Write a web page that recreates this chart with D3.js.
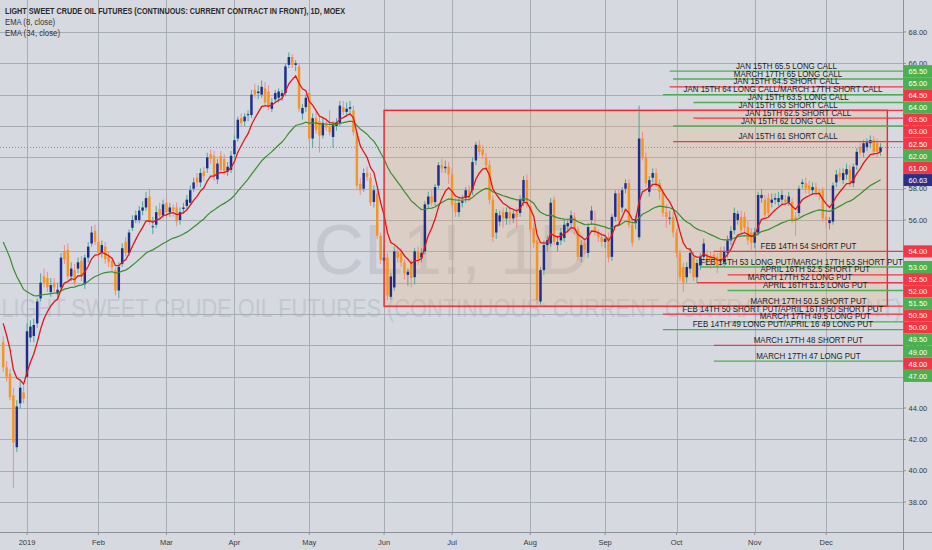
<!DOCTYPE html>
<html><head><meta charset="utf-8">
<script src="https://cdn.jsdelivr.net/npm/d3@7"></script>
<style>
html,body{margin:0;padding:0;background:#d6d9e0;}
svg{display:block;font-family:"Liberation Sans",Arial,sans-serif;}
</style>
</head><body>
<svg id="chart" width="932" height="550"></svg>
<script>
// ---------- text ----------
const title = "LIGHT SWEET CRUDE OIL FUTURES (CONTINUOUS: CURRENT CONTRACT IN FRONT), 1D, MOEX";
const indicatorNames = ["EMA (8, close)", "EMA (34, close)"];
const watermarkSymbol = "CL1!, 1D";
const watermarkName = "LIGHT SWEET CRUDE OIL FUTURES (CONTINUOUS: CURRENT CONTRACT IN FRONT)";
const monthLabels = ["2019","Feb","Mar","Apr","May","Jun","Jul","Aug","Sep","Oct","Nov","Dec"];
const priceTicks = [38,40,42,44,46,48,50,52,54,56,58,60,62,64,66,68];

// ---------- calendar ----------
const firstDate = "2018-12-20";
const lastDate = "2019-12-24";
const holidays = ["2018-12-25","2019-01-01","2019-01-07","2019-03-08","2019-05-09"];

// ---------- daily OHLC (by month) ----------
const opens = [
 48.2,46.6,46.2,44.8,41.5,44.3,45.0,
 46.0,48.5,48.6,49.4,51.0,52.4,52.3,51.4,52.0,51.3,51.7,54.0,54.1,52.4,52.8,52.9,53.4,51.9,53.6,54.5,55.3,
 54.6,53.9,54.3,53.7,53.4,52.8,51.5,53.2,54.6,53.9,55.5,56.0,56.0,56.6,56.8,57.5,55.6,55.7,56.7,56.3,
 57.1,56.5,56.8,56.8,56.0,56.7,56.9,57.1,58.0,58.7,58.4,59.1,59.3,60.2,60.1,58.6,60.1,59.9,59.1,59.2,
 60.2,61.2,62.5,62.3,62.7,62.7,64.3,64.1,64.0,64.4,64.2,63.1,63.7,63.8,63.9,64.1,65.9,66.4,65.9,65.8,62.8,63.2,
 64.1,61.2,62.5,62.3,61.4,62.1,62.0,61.3,62.0,62.2,63.2,62.9,63.1,63.0,61.6,58.3,58.0,59.0,58.7,57.15,57.7,55.0,
 53.4,53.6,51.1,51.7,54.0,53.9,53.3,52.5,53.3,52.35,54.0,53.6,54.0,57.0,57.5,57.15,58.2,59.5,59.3,59.4,
 58.9,57.1,56.5,57.1,57.4,57.9,57.9,59.8,60.8,60.5,59.95,59.5,57.3,55.2,55.9,56.5,56.1,56.5,56.1,56.5,56.45,57.2,58.55,
 56.9,55.5,54.7,50.8,52.8,54.4,54.5,57.3,54.4,54.7,54.85,55.6,55.8,56.2,55.4,53.65,54.55,53.9,56.0,55.55,55.2,54.9,54.6,
 54.9,53.65,56.2,57.7,56.8,58.0,58.35,55.7,55.8,54.9,61.2,60.0,57.8,58.7,59.0,58.35,57.8,56.5,56.1,56.2,55.2,
 53.9,53.0,52.35,52.9,53.65,52.35,53.1,53.65,53.8,53.7,53.8,53.65,54.0,53.3,53.9,54.7,55.35,56.0,56.2,56.2,55.55,55.2,54.55,
 55.2,57.4,57.3,57.4,57.1,57.3,57.15,57.3,57.3,57.15,57.15,56.2,56.45,58.3,58.35,58.2,57.9,58.1,57.8,57.9,56.2,
 55.8,55.9,58.4,59.0,58.55,58.9,59.2,58.35,59.5,60.65,60.3,60.65,60.9,61.1,60.9,60.35
];
const highs = [
 48.6,47.0,46.5,45.3,44.5,45.7,45.4,
 49.4,49.6,49.7,51.0,52.6,52.9,52.7,52.3,52.3,52.0,53.9,54.4,54.5,53.3,53.2,53.6,53.7,53.8,54.6,55.6,55.7,
 54.9,54.7,54.6,54.0,53.6,53.0,53.3,54.5,54.9,55.4,56.3,56.6,56.9,57.2,57.8,58.0,56.2,56.9,57.1,57.3,
 57.4,57.1,57.0,57.1,56.8,57.1,57.6,58.2,58.7,59.0,59.3,59.4,60.3,60.5,60.4,59.9,60.4,60.2,59.7,60.4,
 61.4,62.6,62.8,62.8,63.0,64.3,64.7,64.6,64.9,64.8,64.6,63.8,64.3,64.4,64.3,66.0,66.7,66.6,66.2,66.0,63.4,64.0,
 64.3,62.8,62.9,62.6,62.5,62.5,63.0,62.3,62.5,63.6,63.6,63.5,63.6,63.3,61.8,58.7,59.3,59.4,59.0,58.2,58.0,55.2,
 54.3,53.9,52.6,54.3,54.3,54.2,53.5,52.9,53.5,54.2,54.3,54.2,57.2,57.8,57.9,58.3,59.7,59.9,59.8,59.7,
 59.3,57.4,57.4,57.6,58.1,58.2,60.0,61.0,61.1,60.8,60.3,59.8,57.6,56.7,56.6,56.8,56.8,56.9,56.6,56.8,57.6,58.8,58.9,
 57.2,55.8,55.0,53.0,54.7,55.0,57.4,57.5,55.0,55.5,56.0,56.0,56.6,56.5,55.6,54.7,54.8,55.8,56.9,56.6,55.4,55.2,55.0,
 55.2,56.4,57.9,58.0,58.1,58.6,58.6,56.0,56.3,63.3,61.6,60.3,58.8,59.3,59.3,58.6,58.0,57.0,56.6,56.5,55.4,
 54.1,53.3,53.3,54.2,54.0,53.5,53.9,54.8,54.1,54.0,54.0,53.9,54.3,54.3,55.0,55.6,56.8,56.6,56.6,56.5,55.9,55.5,55.5,
 57.8,58.0,57.6,57.7,57.7,57.7,57.8,57.9,57.6,57.8,57.4,56.5,58.2,58.6,58.7,58.5,58.4,58.4,58.0,58.1,56.5,
 56.2,58.4,59.2,59.3,59.3,59.6,59.5,59.6,60.6,60.9,61.1,61.2,61.4,61.35,61.2,60.9
];
const lows = [
 46.3,45.7,44.5,38.9,41.2,44.0,44.3,
 45.9,48.2,48.2,49.1,50.8,51.7,51.4,51.1,51.4,51.0,51.5,53.2,52.2,52.1,51.8,52.6,52.1,51.6,53.3,54.3,54.4,
 53.6,53.6,53.2,53.0,52.7,51.2,51.0,53.0,53.7,53.7,55.3,55.8,55.8,56.3,56.6,55.7,55.1,55.5,56.0,56.1,
 56.2,56.2,56.2,55.6,55.7,56.4,56.7,56.9,57.8,58.1,58.1,58.5,59.0,59.6,58.5,58.3,59.0,58.9,58.8,59.0,
 60.0,61.0,62.0,62.0,62.3,62.5,63.8,63.7,63.8,63.3,63.0,62.9,63.5,63.5,63.6,63.9,65.7,65.7,65.5,62.9,62.4,62.9,
 61.0,60.6,61.5,60.3,61.2,61.7,61.4,60.6,61.7,62.0,62.7,62.6,62.8,61.4,57.9,57.6,57.8,58.5,56.9,56.8,54.8,53.2,
 52.9,50.9,50.9,51.5,53.3,53.0,52.2,51.8,51.7,51.9,53.1,53.3,53.8,56.7,56.9,56.9,58.0,59.0,59.0,58.3,
 56.8,56.2,56.2,56.8,57.1,57.2,57.6,59.5,60.1,59.9,59.2,57.0,54.6,54.8,55.6,55.5,55.7,55.7,55.8,55.5,56.2,56.9,56.8,
 55.1,54.2,50.6,50.6,52.5,54.0,54.3,54.4,54.0,54.4,54.6,55.2,55.5,55.1,53.4,53.3,53.8,53.6,55.7,55.0,54.6,54.3,54.2,
 53.3,53.4,55.9,55.8,56.5,57.7,55.5,54.3,55.4,54.7,59.8,58.1,57.5,58.4,58.1,57.3,56.2,55.5,55.7,54.9,53.6,
 52.1,51.4,52.0,52.6,52.1,52.0,52.8,53.4,53.0,52.9,53.0,52.6,53.0,53.0,53.6,54.4,55.1,55.7,55.0,55.2,54.4,54.1,54.2,
 55.0,57.1,56.1,56.2,56.8,57.0,56.9,57.0,56.9,56.9,55.8,55.0,56.2,58.0,57.7,57.6,57.6,57.5,57.3,55.9,55.5,
 55.4,55.7,58.1,58.5,58.3,58.6,58.1,58.1,59.2,60.1,60.0,60.4,60.6,60.1,60.0,60.1
];
const closes = [
 46.6,46.0,44.7,41.8,44.1,45.3,44.6,
 48.9,49.2,49.3,50.8,52.0,52.0,51.7,51.85,51.7,51.55,53.6,53.5,52.4,52.9,52.0,53.3,52.4,53.6,54.3,55.2,54.6,
 53.9,54.4,53.5,53.3,53.0,51.5,53.0,54.2,53.9,55.2,56.0,56.3,56.6,56.8,57.4,55.9,55.6,56.5,56.3,57.0,
 56.5,56.8,56.6,55.9,56.5,56.8,57.3,57.9,58.4,58.4,59.0,58.8,60.0,59.9,58.8,59.6,59.2,59.1,59.4,60.1,
 61.1,62.4,62.2,62.6,62.75,64.0,64.0,64.2,64.5,63.5,63.2,63.5,64.1,64.2,64.1,65.8,66.4,65.9,66.0,63.1,63.15,63.8,
 61.2,62.5,61.75,61.4,62.2,61.9,61.6,62.05,62.2,63.3,62.9,63.1,63.2,61.6,58.2,57.9,59.0,58.75,57.1,57.9,55.0,53.45,
 53.6,51.2,52.4,54.0,53.6,53.3,52.6,52.7,52.3,54.0,53.5,53.9,57.0,57.5,57.1,58.1,59.5,59.3,59.4,58.9,
 57.0,56.5,57.1,57.2,57.9,57.4,59.7,60.8,60.35,60.15,59.5,57.3,54.9,56.45,56.3,56.1,56.5,56.1,56.4,56.2,57.3,58.55,57.0,
 55.4,54.55,50.9,52.8,54.4,54.7,57.1,54.6,54.6,55.2,55.7,55.8,56.3,55.4,53.65,54.4,54.1,55.55,56.6,55.2,54.9,54.6,54.8,
 53.6,56.2,57.7,56.0,57.9,58.35,55.7,54.55,56.0,61.2,60.0,58.35,58.55,59.0,58.35,57.8,56.45,56.2,56.15,55.2,53.9,
 52.35,52.0,53.0,53.9,52.35,53.25,53.65,54.5,53.3,53.35,53.45,53.0,53.3,54.0,54.7,55.3,56.45,56.4,55.35,55.5,54.7,54.55,55.2,
 57.6,57.6,56.3,56.45,57.3,57.4,57.4,57.6,57.15,57.5,56.0,56.0,58.0,58.4,58.0,57.9,58.1,57.8,57.6,56.1,56.0,
 56.0,58.2,58.9,58.75,59.0,59.25,58.35,59.4,60.35,60.3,60.9,60.95,61.1,60.35,60.35,60.63
];
// EMA values on the first visible bar (carried over from history before the view)
const ema8Start = 49.4;
const ema34Start = 54.6;
const currentPrice = 60.63;

// ---------- drawings ----------
const levelPrices = [65.5,65,64.5,64,63.5,63,62.5,62,61,54,53,52.5,52,51.5,50.5,50,49.5,49,48,47];
const levelSides  = ["g","g","r","g","g","r","r","g","r","r","g","r","r","g","r","r","g","g","r","g"];
const levelTexts = [
 "JAN 15TH 65.5 LONG CALL","MARCH 17TH 65 LONG CALL","JAN 15TH 64.5 SHORT CALL",
 "JAN 15TH 64 LONG CALL/MARCH 17TH SHORT CALL","JAN 15TH 63.5 LONG CALL","JAN 15TH 63 SHORT CALL",
 "JAN 15TH 62.5 SHORT CALL","JAN 15TH 62 LONG CALL","JAN 15TH 61 SHORT CALL",
 "FEB 14TH 54 SHORT PUT","FEB 14TH 53 LONG PUT/MARCH 17TH 53 SHORT PUT","APRIL 16TH 52.5 SHORT PUT",
 "MARCH 17TH 52 LONG PUT","APRIL 16TH 51.5 LONG PUT","MARCH 17TH 50.5 SHORT PUT",
 "FEB 14TH 50 SHORT PUT/APRIL 16TH 50 SHORT PUT","MARCH 17TH 49.5 LONG PUT",
 "FEB 14TH 49 LONG PUT/APRIL 16 49 LONG PUT","MARCH 17TH 48 SHORT PUT","MARCH 17TH 47 LONG PUT"];
const levelStarts = ["2019-09-27","2019-09-30","2019-09-27","2019-09-25","2019-10-08","2019-09-30",
 "2019-10-08","2019-09-30","2019-09-30","2019-10-16","2019-10-10","2019-10-22","2019-10-09","2019-10-22",
 "2019-10-16","2019-09-25","2019-10-22","2019-09-25","2019-10-16","2019-10-16"];
const tagPrices = [65.5,65,64.5,64,63.5,63,62.5,62,61,60.63,54,53,52.5,52,51.5,50.5,50,49.5,49,48,47];
const tagSides  = ["g","g","r","g","r","r","r","g","r","c","r","g","r","r","g","r","r","g","g","r","g"];
const boxTop = 63.0, boxBottom = 50.5, boxStart = "2019-06-03", boxBarsPastLast = 2;

// ---------- layout / style ----------
const W = 932, H = 550, plotW = 903, plotH = 532;
const barWindow = [-0.94, 264.6];
const priceWindow = [36.09, 70.04];
const C = {bg:"#d6d9e0", grid:"#a8acb5", up:"#1e2c8e", down:"#f7931e", upWick:"#4aa89c", downWick:"#ee8b8b",
  ema8:"#e3151b", ema34:"#3c8d2f", g:"#4caf50", r:"#f23645", c:"#2b2f86", text:"#1c1c1c", axis:"#3a3a3a",
  box:"#f0262c", boxFill:"rgba(236,170,100,0.22)", wm:"#c4c7cf"};

const parse = d3.utcParse("%Y-%m-%d"), fmt = d3.utcFormat("%Y-%m-%d");
const dates = d3.utcDays(parse(firstDate), d3.utcDay.offset(parse(lastDate), 1))
  .filter(d => d.getUTCDay() % 6 !== 0 && !holidays.includes(fmt(d)));
const idxOf = s => dates.findIndex(d => fmt(d) === s);
const n = Math.min(dates.length, closes.length);
const bars = d3.range(n).map(i => ({i, o:opens[i], h:Math.max(highs[i],opens[i],closes[i]),
  l:Math.min(lows[i],opens[i],closes[i]), c:closes[i]}));

const x = d3.scaleLinear().domain(barWindow).range([0, plotW]);
const y = d3.scaleLinear().domain(priceWindow).range([plotH, 0]);
const step = x(1) - x(0);

const svg = d3.select("#chart");
svg.append("rect").attr("width", W).attr("height", H).attr("fill", C.bg);
svg.append("defs").append("clipPath").attr("id","plot").append("rect")
  .attr("width", plotW).attr("height", plotH);
const plot = svg.append("g").attr("clip-path","url(#plot)");

// watermark
plot.append("text").attr("x", plotW/2).attr("y", y(52.55)).attr("text-anchor","middle")
  .attr("font-size", 70).attr("fill", C.wm).text(watermarkSymbol);
plot.append("text").attr("x", plotW/2).attr("y", y(49.8)).attr("text-anchor","middle")
  .attr("font-size", 26).attr("fill", C.wm).attr("textLength", 900).attr("lengthAdjust","spacingAndGlyphs")
  .text(watermarkName);

// grid
const monthStarts = monthLabels.map((lab, m) => ({lab, i: dates.findIndex(d => d.getUTCFullYear()===2019 && d.getUTCMonth()===m)}));
plot.selectAll("line.hg").data(priceTicks).join("line")
  .attr("x1", 0).attr("x2", plotW).attr("y1", d => Math.round(y(d))+0.5).attr("y2", d => Math.round(y(d))+0.5)
  .attr("stroke", C.grid).attr("stroke-width", 1);
plot.selectAll("line.vg").data(monthStarts).join("line")
  .attr("x1", d => Math.round(x(d.i))+0.5).attr("x2", d => Math.round(x(d.i))+0.5)
  .attr("y1", 0).attr("y2", plotH).attr("stroke", C.grid).attr("stroke-width", 1);

// box fill
const bx0 = x(idxOf(boxStart)), bx1 = x(n - 1 + boxBarsPastLast);
plot.append("rect").attr("x", bx0).attr("y", y(boxTop)).attr("width", bx1 - bx0)
  .attr("height", y(boxBottom) - y(boxTop)).attr("fill", C.boxFill);

// current price line
plot.append("line").attr("x1", 0).attr("x2", plotW).attr("y1", y(currentPrice)).attr("y2", y(currentPrice))
  .attr("stroke", "#7478c8").attr("stroke-width", 1).attr("stroke-dasharray", "1,2").attr("opacity", 0.8);

// candles
const bw = step * 0.72;
const cg = plot.append("g");
cg.selectAll("line").data(bars).join("line")
  .attr("x1", d => x(d.i)).attr("x2", d => x(d.i)).attr("y1", d => y(d.h)).attr("y2", d => y(d.l))
  .attr("stroke", d => d.c >= d.o ? C.upWick : C.downWick).attr("stroke-width", 1);
cg.selectAll("rect").data(bars).join("rect")
  .attr("x", d => x(d.i) - bw/2).attr("width", bw)
  .attr("y", d => y(Math.max(d.o, d.c)))
  .attr("height", d => Math.max(1, Math.abs(y(d.o) - y(d.c))))
  .attr("fill", d => d.c >= d.o ? C.up : C.down);

// EMAs
function ema(start, period) {
  const a = 2 / (period + 1), out = [start];
  for (let i = 1; i < n; i++) out.push(out[i-1] + a * (closes[i] - out[i-1]));
  return out;
}
const line = d3.line().x((d, i) => x(i)).y(d => y(d));
plot.append("path").attr("d", line(ema(ema34Start, 34))).attr("fill","none").attr("stroke", C.ema34).attr("stroke-width", 1.2);
plot.append("path").attr("d", line(ema(ema8Start, 8))).attr("fill","none").attr("stroke", C.ema8).attr("stroke-width", 1.3);

// box outline
plot.append("rect").attr("x", bx0).attr("y", y(boxTop)).attr("width", bx1 - bx0)
  .attr("height", y(boxBottom) - y(boxTop)).attr("fill", "none").attr("stroke", C.box).attr("stroke-width", 1.4);

// level lines + texts
const levels = levelPrices.map((p, k) => ({p, col: C[levelSides[k]], text: levelTexts[k], x0: x(idxOf(levelStarts[k]))}));
plot.selectAll("line.lv").data(levels).join("line")
  .attr("x1", d => d.x0).attr("x2", plotW).attr("y1", d => y(d.p)).attr("y2", d => y(d.p))
  .attr("stroke", d => d.col).attr("stroke-width", 1.3);
svg.selectAll("text.lv").data(levels).join("text")
  .attr("transform", d => `translate(${(d.x0 + plotW)/2},${y(d.p) - 2.4}) scale(0.845,1)`)
  .attr("text-anchor","middle").attr("font-size", 9.4).attr("fill", C.text).text(d => d.text);

// axes frame
svg.append("line").attr("x1", plotW+0.5).attr("x2", plotW+0.5).attr("y1", 0).attr("y2", H).attr("stroke", "#8d9199");
svg.append("line").attr("x1", 0).attr("x2", W).attr("y1", plotH+0.5).attr("y2", plotH+0.5).attr("stroke", "#8d9199");

// price ticks
svg.selectAll("line.pt").data(priceTicks).join("line")
  .attr("x1", plotW).attr("x2", plotW + 3).attr("y1", d => y(d)).attr("y2", d => y(d)).attr("stroke", "#8d9199");
svg.selectAll("text.pt").data(priceTicks).join("text")
  .attr("x", plotW + 5.5).attr("y", d => y(d) + 2.7).attr("font-size", 7.5).attr("fill", C.axis)
  .text(d => d.toFixed(2));

// month labels
svg.selectAll("line.mt").data(monthStarts).join("line")
  .attr("x1", d => x(d.i)).attr("x2", d => x(d.i)).attr("y1", plotH).attr("y2", plotH + 3).attr("stroke", "#8d9199");
svg.selectAll("text.mt").data(monthStarts).join("text")
  .attr("x", d => x(d.i)).attr("y", 544.5).attr("text-anchor","middle").attr("font-size", 7.5).attr("fill", C.axis)
  .text(d => d.lab);

// price tags (stacked so they don't overlap)
const tags = tagPrices.map((p, k) => ({p, col: C[tagSides[k]]})).sort((a, b) => b.p - a.p);
let prev = -1e9;
tags.forEach(t => { t.cy = Math.max(y(t.p), prev + 12.1); prev = t.cy; });
const tg = svg.selectAll("g.tag").data(tags).join("g");
tg.append("rect").attr("x", plotW + 0.5).attr("y", d => d.cy - 6).attr("width", W - plotW).attr("height", 12)
  .attr("fill", d => d.col);
tg.append("text").attr("x", plotW + 5.5).attr("y", d => d.cy + 2.8).attr("font-size", 7.5).attr("fill", "#fff")
  .text(d => d.p.toFixed(2));

// header
svg.append("text").attr("x", 5).attr("y", 14).attr("font-size", 8.5).attr("font-weight", "bold")
  .attr("fill", "#2a2a2a").attr("textLength", 340).attr("lengthAdjust", "spacingAndGlyphs").text(title);
svg.selectAll("text.ind").data(indicatorNames).join("text")
  .attr("x", 5).attr("y", (d, k) => 25 + k * 10.5).attr("font-size", 8.5).attr("fill", "#333")
  .attr("textLength", (d, k) => [50, 55][k]).attr("lengthAdjust", "spacingAndGlyphs").text(d => d);
</script>
</body></html>
